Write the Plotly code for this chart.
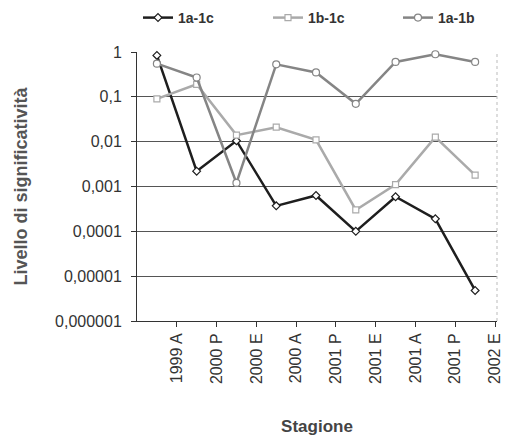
import plotly.graph_objects as go

categories = ["1999 A", "2000 P", "2000 E", "2000 A", "2001 P", "2001 E", "2001 A", "2001 P", "2002 E"]
s_1a_1c = [0.84, 0.0022, 0.0105, 0.00037, 0.00063, 0.0001, 0.00059, 0.00019, 0.0000048]
s_1b_1c = [0.09, 0.19, 0.014, 0.021, 0.011, 0.0003, 0.0011, 0.0126, 0.0018]
s_1a_1b = [0.55, 0.27, 0.0012, 0.53, 0.35, 0.07, 0.6, 0.89, 0.6]
y_tickvals = [1, 0.1, 0.01, 0.001, 0.0001, 0.00001, 0.000001]
y_ticktext = ["1", "0,1", "0,01", "0,001", "0,0001", "0,00001", "0,000001"]

FONT = "Liberation Sans, Arial, sans-serif"
xpos = list(range(len(categories)))
tickpos = [i + 0.5 for i in xpos]

fig = go.Figure()
series = [
    ("1a-1c", s_1a_1c, "#1e1e1e", "diamond", 6, "legend", 138),
    ("1b-1c", s_1b_1c, "#aaaaaa", "square", 6, "legend2", 268),
    ("1a-1b", s_1a_1b, "#858585", "circle", 7, "legend3", 398),
]
for name, vals, col, sym, sz, lg, lx in series:
    fig.add_trace(go.Scatter(
        x=xpos, y=vals, name="<b>" + name + "</b>", mode="lines+markers",
        line=dict(color=col, width=2.5),
        marker=dict(symbol=sym, size=sz, color="white", line=dict(color=col, width=1.2)),
        legend=lg, cliponaxis=False,
    ))
    fig.update_layout({lg: dict(
        orientation="h", x=lx / 505, xanchor="left", xref="container",
        y=1 - 18 / 436, yanchor="middle", yref="container",
        font=dict(size=14, color="#333333", family=FONT),
        bgcolor="rgba(0,0,0,0)",
        itemclick=False, itemdoubleclick=False,
    )})

fig.update_layout(
    width=505, height=436,
    margin=dict(l=137, r=8, t=52, b=115, autoexpand=False),
    paper_bgcolor="white", plot_bgcolor="white",
    font=dict(family=FONT, color="#333333", size=16),
    showlegend=True,
)

fig.update_xaxes(
    range=[-0.5, 8.55], tickmode="array", tickvals=tickpos, ticktext=categories,
    tickangle=-90, ticks="outside", ticklen=5, tickcolor="#333",
    showline=True, linecolor="#333", linewidth=1, mirror=False,
    showgrid=False, zeroline=False,
    title=dict(text="<b>Stagione</b>", font=dict(size=17, color="#444"), standoff=40),
)
fig.update_yaxes(
    type="log", range=[-6, 0], tickmode="array", tickvals=y_tickvals, ticktext=y_ticktext,
    ticks="outside", ticklen=5, tickcolor="#333",
    showline=True, linecolor="#333", linewidth=1,
    showgrid=True, gridcolor="#555555", gridwidth=1,
    ticklabelstandoff=6,
    title=dict(text="<b>Livello di significatività</b>", font=dict(size=18, color="#555"), standoff=22),
)
# faint right border of the plot area
fig.add_shape(type="line", xref="paper", yref="paper", x0=1, x1=1, y0=0, y1=1,
              line=dict(color="#bbbbbb", width=1, dash="dot"))

fig.write_html("out.html")
